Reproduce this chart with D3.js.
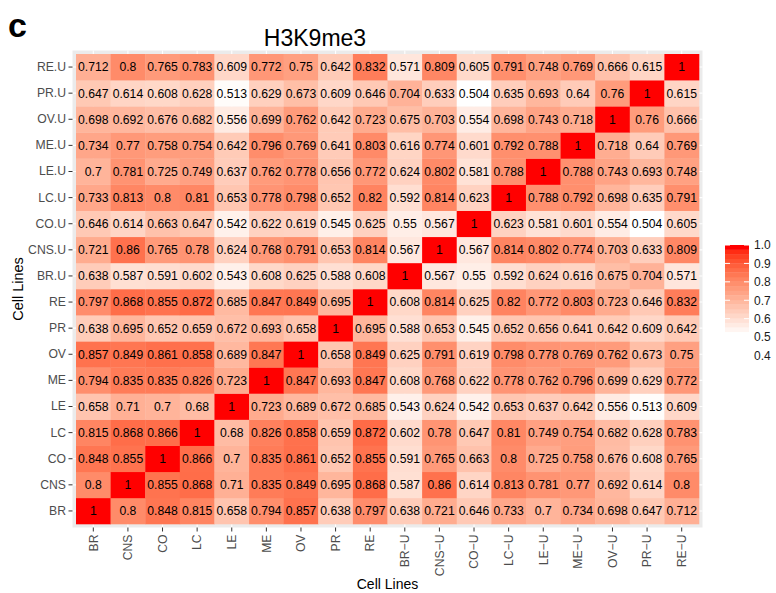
<!DOCTYPE html>
<html>
<head>
<meta charset="utf-8">
<script src="https://cdn.jsdelivr.net/npm/d3@7"></script>
<style>
  body { margin: 0; background: #fff; }
  svg { display: block; }
  text { font-family: "Liberation Sans", Arial, sans-serif; }
</style>
</head>
<body>
<svg id="chart" width="776" height="593"></svg>
<script>
// Column categories (x axis, left to right)
const colLabels = ["BR","CNS","CO","LC","LE","ME","OV","PR","RE",
  "BR\u2212U","CNS\u2212U","CO\u2212U","LC\u2212U","LE\u2212U","ME\u2212U","OV\u2212U","PR\u2212U","RE\u2212U"];

// Row categories (y axis, bottom to top)
const rowLabels = ["BR","CNS","CO","LC","LE","ME","OV","PR","RE",
  "BR.U","CNS.U","CO.U","LC.U","LE.U","ME.U","OV.U","PR.U","RE.U"];

// Correlation values, one row per rowLabels entry, columns in colLabels order
const corr = [
  [1,0.8,0.848,0.815,0.658,0.794,0.857,0.638,0.797,0.638,0.721,0.646,0.733,0.7,0.734,0.698,0.647,0.712],
  [0.8,1,0.855,0.868,0.71,0.835,0.849,0.695,0.868,0.587,0.86,0.614,0.813,0.781,0.77,0.692,0.614,0.8],
  [0.848,0.855,1,0.866,0.7,0.835,0.861,0.652,0.855,0.591,0.765,0.663,0.8,0.725,0.758,0.676,0.608,0.765],
  [0.815,0.868,0.866,1,0.68,0.826,0.858,0.659,0.872,0.602,0.78,0.647,0.81,0.749,0.754,0.682,0.628,0.783],
  [0.658,0.71,0.7,0.68,1,0.723,0.689,0.672,0.685,0.543,0.624,0.542,0.653,0.637,0.642,0.556,0.513,0.609],
  [0.794,0.835,0.835,0.826,0.723,1,0.847,0.693,0.847,0.608,0.768,0.622,0.778,0.762,0.796,0.699,0.629,0.772],
  [0.857,0.849,0.861,0.858,0.689,0.847,1,0.658,0.849,0.625,0.791,0.619,0.798,0.778,0.769,0.762,0.673,0.75],
  [0.638,0.695,0.652,0.659,0.672,0.693,0.658,1,0.695,0.588,0.653,0.545,0.652,0.656,0.641,0.642,0.609,0.642],
  [0.797,0.868,0.855,0.872,0.685,0.847,0.849,0.695,1,0.608,0.814,0.625,0.82,0.772,0.803,0.723,0.646,0.832],
  [0.638,0.587,0.591,0.602,0.543,0.608,0.625,0.588,0.608,1,0.567,0.55,0.592,0.624,0.616,0.675,0.704,0.571],
  [0.721,0.86,0.765,0.78,0.624,0.768,0.791,0.653,0.814,0.567,1,0.567,0.814,0.802,0.774,0.703,0.633,0.809],
  [0.646,0.614,0.663,0.647,0.542,0.622,0.619,0.545,0.625,0.55,0.567,1,0.623,0.581,0.601,0.554,0.504,0.605],
  [0.733,0.813,0.8,0.81,0.653,0.778,0.798,0.652,0.82,0.592,0.814,0.623,1,0.788,0.792,0.698,0.635,0.791],
  [0.7,0.781,0.725,0.749,0.637,0.762,0.778,0.656,0.772,0.624,0.802,0.581,0.788,1,0.788,0.743,0.693,0.748],
  [0.734,0.77,0.758,0.754,0.642,0.796,0.769,0.641,0.803,0.616,0.774,0.601,0.792,0.788,1,0.718,0.64,0.769],
  [0.698,0.692,0.676,0.682,0.556,0.699,0.762,0.642,0.723,0.675,0.703,0.554,0.698,0.743,0.718,1,0.76,0.666],
  [0.647,0.614,0.608,0.628,0.513,0.629,0.673,0.609,0.646,0.704,0.633,0.504,0.635,0.693,0.64,0.76,1,0.615],
  [0.712,0.8,0.765,0.783,0.609,0.772,0.75,0.642,0.832,0.571,0.809,0.605,0.791,0.748,0.769,0.666,0.615,1]
];

// Legend break labels
const legendBreaks = [1.0, 0.9, 0.8, 0.7, 0.6, 0.5, 0.4];

const svg = d3.select("#chart");

// Panel geometry
const tileX0 = 76, tileX1 = 699, tileY0 = 54, tileY1 = 524, pad = 3.5;

const x = d3.scaleBand().domain(colLabels).range([tileX0, tileX1]).padding(0);
const y = d3.scaleBand().domain(rowLabels).range([tileY1, tileY0]).padding(0);

const cells = [];
rowLabels.forEach((r, i) => colLabels.forEach((c, j) => cells.push({ r, c, v: corr[i][j] })));

const vmin = d3.min(cells, d => d.v);
const color = d3.scaleLinear().domain([vmin, 1]).range(["#ffffff", "#ff0000"])
  .interpolate(d3.interpolateLab).clamp(true);

// Grey panel and white grid lines
svg.append("rect")
  .attr("x", tileX0 - pad).attr("y", tileY0 - pad)
  .attr("width", tileX1 - tileX0 + 2 * pad).attr("height", tileY1 - tileY0 + 2 * pad)
  .attr("fill", "#ebebeb");

const grid = svg.append("g").attr("stroke", "#ffffff").attr("stroke-width", 1.1);
grid.selectAll("line.gx").data(colLabels).join("line")
  .attr("x1", d => x(d) + x.bandwidth() / 2).attr("x2", d => x(d) + x.bandwidth() / 2)
  .attr("y1", tileY0 - pad).attr("y2", tileY1 + pad);
grid.selectAll("line.gy").data(rowLabels).join("line")
  .attr("y1", d => y(d) + y.bandwidth() / 2).attr("y2", d => y(d) + y.bandwidth() / 2)
  .attr("x1", tileX0 - pad).attr("x2", tileX1 + pad);

// Tiles
svg.append("g").selectAll("rect").data(cells).join("rect")
  .attr("x", d => x(d.c)).attr("y", d => y(d.r))
  .attr("width", x.bandwidth() + 0.3).attr("height", y.bandwidth() + 0.3)
  .attr("fill", d => color(d.v));

// Value labels
svg.append("g").selectAll("text").data(cells).join("text")
  .attr("x", d => x(d.c) + x.bandwidth() / 2)
  .attr("y", d => y(d.r) + y.bandwidth() / 2)
  .attr("dy", "0.36em")
  .attr("text-anchor", "middle")
  .attr("font-size", 12.2)
  .attr("fill", "#000")
  .text(d => String(d.v));

// Axes
const yAxis = svg.append("g").attr("transform", `translate(${tileX0 - pad},0)`)
  .call(d3.axisLeft(y).tickSize(4).tickPadding(2.5));
const xAxis = svg.append("g").attr("transform", `translate(0,${tileY1 + pad})`)
  .call(d3.axisBottom(x).tickSize(4).tickPadding(2));
[yAxis, xAxis].forEach(a => {
  a.select(".domain").remove();
  a.selectAll(".tick line").attr("stroke", "#333333").attr("stroke-width", 1);
  a.selectAll(".tick text").attr("fill", "#4d4d4d").attr("font-size", 12.2)
    .attr("font-family", "'Liberation Sans', Arial, sans-serif");
});
xAxis.selectAll(".tick text")
  .attr("transform", "rotate(-90)")
  .attr("text-anchor", "end")
  .attr("x", -7).attr("y", 0).attr("dy", "0.35em");

// Titles
svg.append("text").attr("x", 8).attr("y", 37)
  .attr("font-size", 34).attr("font-weight", "bold").attr("fill", "#000").text("c");
svg.append("text").attr("x", 315).attr("y", 46).attr("text-anchor", "middle")
  .attr("font-size", 23).attr("fill", "#000").text("H3K9me3");
svg.append("text").attr("x", (tileX0 + tileX1) / 2).attr("y", 589).attr("text-anchor", "middle")
  .attr("font-size", 14).attr("fill", "#000").text("Cell Lines");
svg.append("text").attr("transform", `translate(23,${(tileY0 + tileY1) / 2}) rotate(-90)`)
  .attr("text-anchor", "middle").attr("font-size", 14.5).attr("fill", "#000").text("Cell Lines");

// Colour bar legend
const ly = d3.scaleLinear().domain([0.4, 1]).range([355.5, 245]);
const barX = 725, barW = 24, nbin = 20;
const barTop = ly(1), barBot = ly(vmin), binH = (barBot - barTop) / nbin;
const bins = d3.range(nbin).map(i => vmin + (1 - vmin) * i / (nbin - 1));
const leg = svg.append("g");
leg.selectAll("rect").data(bins).join("rect")
  .attr("x", barX).attr("width", barW)
  .attr("y", (d, i) => barBot - (i + 1) * binH).attr("height", binH + 0.3)
  .attr("fill", d => color(d));
const inBar = legendBreaks.filter(b => b >= vmin && b <= 1);
leg.selectAll("line.l").data(inBar).join("line")
  .attr("x1", barX).attr("x2", barX + 5).attr("y1", d => ly(d)).attr("y2", d => ly(d))
  .attr("stroke", "#fff").attr("stroke-width", 1);
leg.selectAll("line.r").data(inBar).join("line")
  .attr("x1", barX + barW - 5).attr("x2", barX + barW).attr("y1", d => ly(d)).attr("y2", d => ly(d))
  .attr("stroke", "#fff").attr("stroke-width", 1);
leg.selectAll("text").data(legendBreaks).join("text")
  .attr("x", barX + barW + 5).attr("y", d => ly(d)).attr("dy", "0.36em")
  .attr("font-size", 12).attr("fill", "#1a1a1a")
  .text(d => d3.format(".1f")(d));
</script>
</body>
</html>
